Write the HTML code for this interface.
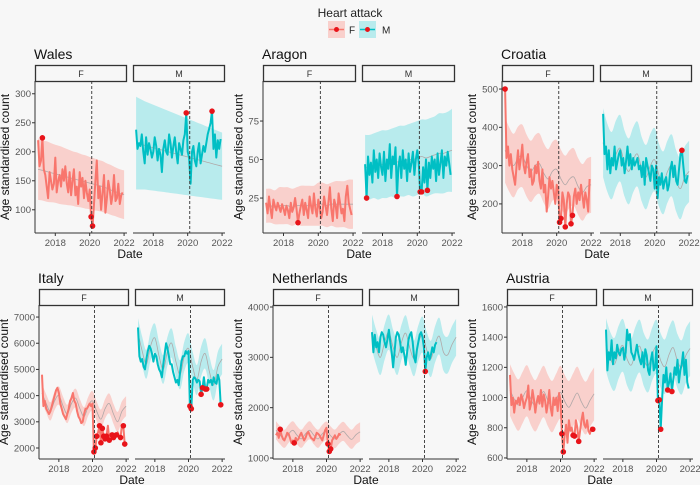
<!DOCTYPE html>
<html><head><meta charset="utf-8">
<style>
html,body{margin:0;padding:0;background:#f7f7f7;}
svg{display:block;font-family:"Liberation Sans",Arial,sans-serif;}
</style></head>
<body>
<svg id="chart" width="700" height="485" viewBox="0 0 700 485"></svg>
<script>
// ---------- data ----------
const xTicks = [2018, 2020, 2022];
const countries = ["Wales","Aragon","Croatia","Italy","Netherlands","Austria"];
const yTicksWales = [100,150,200,250,300];
const yTicksAragon = [25,50,75];
const yTicksCroatia = [200,300,400,500];
const yTicksItaly = [2000,3000,4000,5000,6000,7000];
const yTicksNetherlands = [1000,2000,3000,4000];
const yTicksAustria = [600,800,1000,1200,1400,1600];

const walesF = [220,175,185,224,170,160,140,120,165,150,135,145, 190,130,150,160,140,170,150,175,145,130,165,125, 150,170,125,140,110,165,140,155,120,150,130,115, 135,88,72,110,150,185,120,140,100,130,160,95, 120,150,135,110,125,160,115,120,145,110,125,130];
const walesFOut = [3,37,38];
const walesM = [238,205,215,210,230,200,180,225,195,215,205,190, 200,225,210,185,205,195,165,205,220,200,195,230, 215,190,210,225,200,180,215,205,195,220,230,267, 200,190,145,200,210,185,175,200,215,180,195,210, 200,215,230,240,250,270,205,230,190,220,205,222];
const walesMOut = [35,53];
const walesFExp = [170,168,166,164,162,160,158,156,154,152,150,148,146,144,142,140,137,134,131,128,126];
const walesFHw = [53,52,52,51,50,50,49,48,47,47,46,46,45,45,44,44,43,43,42,42,42];
const walesMExp = [215,213,211,209,207,205,203,201,199,197,195,193,191,189,187,185,183,181,179,177,175];
const walesMHw = [80,78,76,75,74,73,72,71,70,69,68,67,66,65,64,63,62,61,60,59,58];

const aragonF = [22,15,26,18,12,24,20,17,22,19,16,21, 18,14,20,17,12,22,16,19,25,18,9,15, 20,24,14,22,17,12,26,20,15,28,18,13, 24,19,12,16,26,20,14,22,32,18,10,24, 20,12,28,22,15,18,10,26,33,22,18,14];
const aragonFOut = [22];
const aragonM = [47,25,52,40,48,35,56,42,50,38,54,45, 40,55,36,50,44,60,38,52,47,58,26,45, 52,38,56,44,50,36,54,42,48,55,40,50, 56,48,29,29,45,35,50,30,48,38,52,44, 50,36,54,40,48,56,38,52,46,55,48,40];
const aragonMOut = [1,22,38,39,43];
const aragonFExp = [20,20,19,20,20,20,19,20,20,20,20,20,21,21,20,21,21,21,21,21,21];
const aragonFHw = [11,11,11,12,12,12,12,12,13,13,13,13,14,14,14,14,15,15,15,16,16];
const aragonMExp = [45,45,46,46,47,47,48,48,49,49,50,50,51,52,51,52,53,54,54,55,56];
const aragonMHw = [21,21,21,22,22,22,22,23,23,23,23,24,24,24,25,25,25,26,26,26,27];

const croatiaF = [500,320,350,300,330,290,270,250,300,340,290,320, 355,300,280,310,330,270,290,250,260,300,280,310, 260,240,290,230,250,180,220,270,240,260,230,200, 250,240,152,162,230,210,140,200,230,220,148,170, 220,240,200,230,210,250,220,190,230,210,180,265];
const croatiaFOut = [0,38,39,42,46,47];
const croatiaM = [435,330,350,290,340,280,320,300,350,290,310,330, 340,300,320,280,310,350,300,330,290,320,300,310, 320,290,300,270,310,250,320,300,280,260,300,290, 240,300,215,270,250,280,240,260,270,235,250,290, 310,270,300,260,250,290,330,340,300,260,255,275];
const croatiaMOut = [55];
const croatiaFExp = [340,315,300,320,325,300,285,300,305,280,265,285,290,265,250,265,270,245,230,245,250];
const croatiaFHw = [85,84,83,82,82,81,80,80,79,78,78,77,77,76,76,75,75,74,74,73,73];
const croatiaMExp = [360,320,300,330,345,305,285,315,330,290,270,300,315,275,255,285,300,260,240,270,285];
const croatiaMHw = [90,89,88,88,87,86,86,85,85,84,84,83,83,82,82,81,81,80,80,80,80];

const italyF = [4800,3600,3800,3500,3400,3300,3400,3600,3800,4000,4200,4300, 4100,3700,3500,3300,3200,3100,3300,3500,3800,3900,4100,3800, 3700,3400,3200,3100,2950,3000,3300,3500,3500,3600,3700,3600, 3700,1850,2000,2450,2600,2850,2200,2750,2450,2350,2450,2850, 2300,2450,2500,2400,2450,2500,2600,2450,2400,2850,2850,2150];
const italyFOut = [37,38,39,41,42,43,44,45,46,48,50,51,53,56,58,59];
const italyM = [6600,5500,5300,5400,5100,5000,5400,5700,5900,5800,5600,5300, 5600,5500,5200,5000,4900,4700,5200,5600,6000,5800,5500,5200, 5200,4900,4700,4500,4600,4400,4900,5300,5500,5500,5700,5600, 5700,3600,3500,4600,4700,4650,4500,4600,4550,4050,4300,4700, 4250,4250,4600,4500,4600,4400,4700,4500,4450,4800,4600,3650];
const italyMOut = [37,38,45,46,48,49,59];
const italyFExp = [4100,3700,3400,3800,4000,3600,3300,3700,3900,3500,3200,3600,3800,3400,3100,3500,3700,3300,3000,3400,3600];
const italyFHw = [350,350,350,350,350,350,350,350,360,360,360,360,370,370,370,370,380,380,380,380,380];
const italyMExp = [6400,5700,5200,5900,6200,5500,5000,5700,6000,5300,4800,5500,5800,5100,4600,5300,5600,4900,4400,5100,5400];
const italyMHw = [550,550,550,550,550,550,550,550,560,560,560,560,570,570,570,570,580,580,580,580,580];

const netherlandsF = [1450,1500,1400,1570,1450,1380,1350,1420,1500,1480,1400,1300, 1350,1300,1400,1350,1380,1450,1500,1420,1350,1400,1480,1520, 1450,1400,1380,1350,1420,1500,1480,1450,1400,1350,1450,1550, 1600,1280,1130,1180,1350,1400,1450,1380,1420,1480,1450];
const netherlandsFOut = [3,13,37,38,39];
const netherlandsM = [3500,3100,3450,3200,3300,3100,3400,3500,3450,3300,3200,3350, 3550,3300,3100,2800,3100,3400,3500,3450,3300,3100,3200,3050, 2850,3100,3350,3450,3500,3300,3000,2900,3150,3300,3450,3500, 3400,3200,2720,3000,3100,2950,3050,3200,3100,3250,3300];
const netherlandsMOut = [38];
const netherlandsFExp = [1550,1450,1380,1480,1550,1450,1380,1480,1550,1450,1380,1480,1540,1440,1380,1470,1530,1440,1370,1460,1520];
const netherlandsFHw = [180,180,180,180,180,180,180,180,180,180,180,180,185,185,185,185,190,190,190,190,190];
const netherlandsMExp = [3500,3200,3000,3300,3500,3200,3000,3300,3480,3180,2980,3280,3450,3150,2970,3260,3420,3100,3050,3250,3400];
const netherlandsMHw = [350,350,350,350,350,350,350,350,355,355,355,355,360,360,360,360,365,365,365,365,365];

const austriaF = [1150,950,1000,900,980,960,1000,950,1020,990,930,970, 1000,1080,920,960,1050,990,900,970,1010,960,1050,940, 1020,980,900,960,1050,930,880,1000,950,1000,910,1030, 980,760,640,750,820,700,850,780,800,750,745,850, 800,710,780,850,900,820,800,850,780,760,800,790];
const austriaFOut = [37,38,45,46,49,59];
const austriaM = [1450,1180,1300,1250,1380,1220,1300,1260,1350,1300,1280,1320, 1330,1250,1300,1450,1380,1420,1300,1280,1250,1300,1350,1290, 1250,1220,1300,1200,1320,1280,1180,1150,1250,1300,1180,1200, 1340,980,985,790,990,1150,1100,1200,1050,1100,1160,1040, 1120,1200,1150,1250,1100,1180,1220,1300,1150,1250,1100,1060];
const austriaMOut = [37,38,39,44,47];
const austriaFExp = [1050,990,950,1000,1045,985,945,995,1040,980,940,990,1035,975,935,985,1030,970,930,980,1025];
const austriaFHw = [170,170,170,170,170,170,170,170,170,170,170,170,175,175,175,175,175,175,175,175,175];
const austriaMExp = [1350,1260,1220,1300,1345,1255,1215,1295,1340,1250,1210,1290,1335,1245,1205,1285,1330,1240,1200,1280,1325];
const austriaMHw = [175,175,175,175,175,175,175,175,175,175,175,175,180,180,180,180,180,180,180,180,180];

const lockdownYear = 2020.12;

// ---------- layout ----------
const NS = "http://www.w3.org/2000/svg";
const svg = document.getElementById("chart");
function mk(tag, attrs, parent){ const e=document.createElementNS(NS,tag); for(const k in attrs) e.setAttribute(k,attrs[k]); (parent||svg).appendChild(e); return e; }

const facets = [
 {name:"Wales", left:35, w:92, top:81, bot:233, yLo:60, yHi:322, ticks:yTicksWales, F:walesF, FO:walesFOut, M:walesM, MO:walesMOut, FE:walesFExp, FH:walesFHw, ME:walesMExp, MH:walesMHw, row:0},
 {name:"Aragon", left:263, w:93, top:81, bot:233, yLo:2.3, yHi:101, ticks:yTicksAragon, F:aragonF, FO:aragonFOut, M:aragonM, MO:aragonMOut, FE:aragonFExp, FH:aragonFHw, ME:aragonMExp, MH:aragonMHw, row:0},
 {name:"Croatia", left:502, w:92, top:81, bot:233, yLo:124, yHi:521, ticks:yTicksCroatia, F:croatiaF, FO:croatiaFOut, M:croatiaM, MO:croatiaMOut, FE:croatiaFExp, FH:croatiaFHw, ME:croatiaMExp, MH:croatiaMHw, row:0},
 {name:"Italy", left:39, w:90, top:305, bot:459, yLo:1580, yHi:7460, ticks:yTicksItaly, F:italyF, FO:italyFOut, M:italyM, MO:italyMOut, FE:italyFExp, FH:italyFHw, ME:italyMExp, MH:italyMHw, row:1},
 {name:"Netherlands", left:273, w:90, top:305, bot:459, yLo:980, yHi:4040, ticks:yTicksNetherlands, F:netherlandsF, FO:netherlandsFOut, M:netherlandsM, MO:netherlandsMOut, FE:netherlandsFExp, FH:netherlandsFHw, ME:netherlandsMExp, MH:netherlandsMHw, row:1},
 {name:"Austria", left:507, w:90, top:305, bot:459, yLo:593, yHi:1613, ticks:yTicksAustria, F:austriaF, FO:austriaFOut, M:austriaM, MO:austriaMOut, FE:austriaFExp, FH:austriaFHw, ME:austriaMExp, MH:austriaMHw, row:1}
];

const colF="#F8766D", colM="#00BFC4";
const bandF="#f9d0cc", bandM="#b8ebed";

function smooth(pts){
  let d="M"+pts[0][0].toFixed(1)+","+pts[0][1].toFixed(1);
  for(let i=0;i<pts.length-1;i++){
    const p0=pts[Math.max(0,i-1)],p1=pts[i],p2=pts[i+1],p3=pts[Math.min(pts.length-1,i+2)];
    const c1=[p1[0]+(p2[0]-p0[0])/6,p1[1]+(p2[1]-p0[1])/6];
    const c2=[p2[0]-(p3[0]-p1[0])/6,p2[1]-(p3[1]-p1[1])/6];
    d+="C"+c1[0].toFixed(1)+","+c1[1].toFixed(1)+" "+c2[0].toFixed(1)+","+c2[1].toFixed(1)+" "+p2[0].toFixed(1)+","+p2[1].toFixed(1);
  }
  return d;
}
function smoothCont(pts){ return smooth(pts).replace(/^M/,"L"); }

// legend
const lg = mk("g",{});


const lt = mk("text",{x:350,y:17,"text-anchor":"middle","font-size":12,fill:"#222"},lg); lt.textContent="Heart attack";


[["F",328,bandF,colF,349],["M",359,bandM,colM,382]].forEach(([lab,x,bc,lc,tx])=>{
  const g=mk("g",{},lg);
  
  
  mk("rect",{x:x,y:21,width:17,height:17,fill:bc},g);
  mk("line",{x1:x+1,y1:29.5,x2:x+16,y2:29.5,stroke:lc,"stroke-width":1.5},g);
  mk("circle",{cx:x+8.5,cy:29.5,r:2.5,fill:"#e8141a"},g);
  const t=mk("text",{x:tx,y:33.5,"font-size":10,fill:"#222"},g); t.textContent=lab;
});

facets.forEach(f=>{
  const g=mk("g",{});
  
  
  const yS=v=>f.bot-(v-f.yLo)/(f.yHi-f.yLo)*(f.bot-f.top);
  const stripTop = f.row===0?65:289;
  const tt=mk("text",{x:f.left-1,y:stripTop-6,"font-size":14,fill:"#111"},g); tt.textContent=f.name;
  
  
  const maxLen=Math.max(...f.ticks.map(v=>String(v).length));
  const off = 10 + maxLen*5.3;
  // y axis title
  const yt=mk("text",{x:0,y:0,"font-size":12,fill:"#111","text-anchor":"middle",transform:`translate(${f.left-off},${(f.top+f.bot)/2}) rotate(-90)`},g);
  yt.textContent="Age standardised count";
  
  
  // x axis title
  const xt=mk("text",{x:f.left+f.w+3,y:f.bot+25,"font-size":12,fill:"#111","text-anchor":"middle"},g);
  xt.textContent="Date";
  
  
  // y ticks
  f.ticks.forEach(v=>{
    const y=yS(v);
    mk("line",{x1:f.left-3,x2:f.left,y1:y,y2:y,stroke:"#333","stroke-width":1},g);
    const t=mk("text",{x:f.left-4,y:y+3.3,"font-size":9.5,fill:"#555","text-anchor":"end"},g); t.textContent=v;
    
    
  });
  mk("line",{x1:f.left,x2:f.left,y1:f.top,y2:f.bot,stroke:"#333","stroke-width":1},g);
  [["F",0,f.F,f.FO,f.FE,f.FH,colF,bandF],["M",1,f.M,f.MO,f.ME,f.MH,colM,bandM]].forEach(([sex,k,obs,out,ex,hw,col,band])=>{
    const x0=f.left+k*(f.w+6);
    const xS=t=>x0+(t-2016.82)/5.35*f.w;
    const pg=mk("g",{},g);
    
    
    // strip
    const sr=mk("rect",{x:x0+0.5,y:stripTop+0.5,width:f.w-1,height:16,fill:"#f7f7f7",stroke:"#333","stroke-width":1.3},pg);
    
    
    const st=mk("text",{x:x0+f.w/2,y:stripTop+12,"font-size":9,fill:"#333","text-anchor":"middle"},pg); st.textContent=sex;
    // band
    const up=ex.map((v,i)=>[xS(2017+i*0.25),yS(v+hw[i])]);
    const lo=ex.map((v,i)=>[xS(2017+i*0.25),yS(v-hw[i])]).reverse();
    const bp=mk("path",{d:smooth(up)+smoothCont(lo)+"Z",fill:band,stroke:"none"},pg);
    
    
    const ep=mk("path",{d:smooth(ex.map((v,i)=>[xS(2017+i*0.25),yS(v)])),fill:"none",stroke:"#b0a8a8","stroke-width":0.8},pg);
    
    
    // observed
    const pts=obs.map((v,i)=>[xS(2017+i/12),yS(v)]);
    const op=mk("path",{d:"M"+pts.map(p=>p[0].toFixed(1)+","+p[1].toFixed(1)).join("L"),fill:"none",stroke:col,"stroke-width":2,"stroke-linejoin":"round"},pg);
    
    
    out.forEach(i=>{
      const c=mk("circle",{cx:pts[i][0],cy:pts[i][1],r:2.8,fill:"#e8141a"},pg);
      
      
    });
    // lockdown
    const lx=xS(lockdownYear);
    const dl=mk("line",{x1:lx,x2:lx,y1:f.top,y2:f.bot,stroke:"#333","stroke-width":0.9,"stroke-dasharray":"3,2"},pg);
    
    
    // x axis
    mk("line",{x1:x0,x2:x0+f.w,y1:f.bot,y2:f.bot,stroke:"#333","stroke-width":1},pg);
    xTicks.forEach(t=>{
      const x=xS(t);
      mk("line",{x1:x,x2:x,y1:f.bot,y2:f.bot+3,stroke:"#333","stroke-width":1},pg);
      const tl=mk("text",{x:x,y:f.bot+13,"font-size":9.5,fill:"#555","text-anchor":"middle"},pg); tl.textContent=t;
      
      
    });
  });
});
</script>
</body></html>
